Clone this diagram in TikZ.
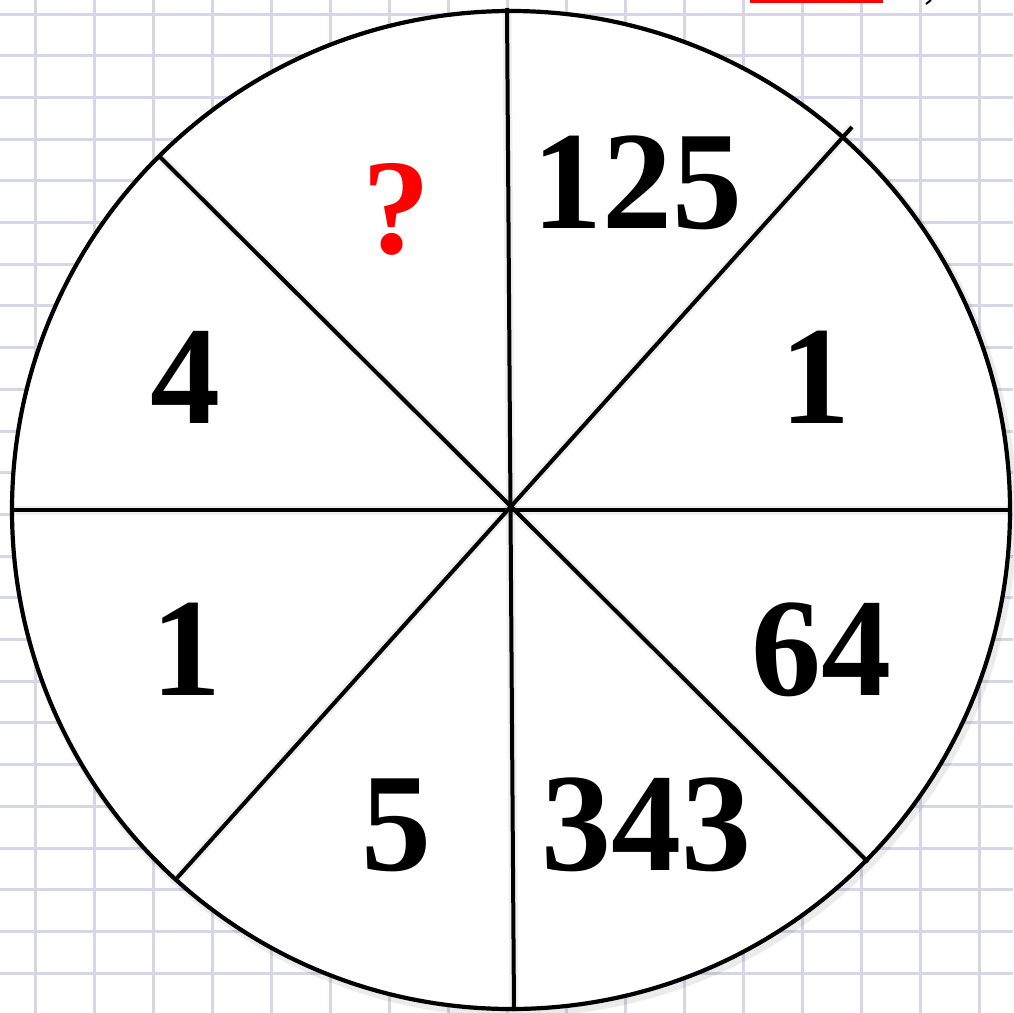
\documentclass[tikz,border=0pt]{standalone}
\usepackage{fontspec}
\setmainfont{Liberation Serif}
\definecolor{gridc}{RGB}{214,214,232}
\definecolor{qred}{RGB}{255,0,0}
\tikzset{
  num/.style={font=\fontsize{140}{140}\selectfont\bfseries, anchor=base, inner sep=0pt},
  spoke/.style={line width=4pt, black},
  spokeshadow/.style={line width=9pt, black, opacity=0.06},
  gridline/.style={line width=3pt, gridc}
}
\begin{document}
\begin{tikzpicture}[x=1pt,y=-1pt]
\useasboundingbox (0,0) rectangle (1013,1013);
\fill[white] (0,0) rectangle (1013,1013);
% grid
\foreach \i in {0,...,16} {
  \draw[gridline] ({35+59*\i},0) -- ({35+59*\i},1013);
}
\foreach \j in {0,...,24} {
  \draw[gridline] (0,{14+41.7*\j}) -- (1013,{14+41.7*\j});
}
% top-right cut-off marks
\fill[qred] (750,-5) rectangle (883,3);
\draw[line width=2pt] (926,4) -- (931,0);
% disk
\coordinate (O) at (511,510);
\fill[black, opacity=0.08] (514,514) circle (503);
\fill[white] (O) circle (499);
% spoke endpoints
\coordinate (T) at (507,8);
\coordinate (B) at (514,1011);
\coordinate (L) at (12,510);
\coordinate (R) at (1010,510);
\coordinate (UL) at (160,157);
\coordinate (LR) at (868,862);
\coordinate (LL) at (177,878);
\coordinate (UR) at (852,127);
% shadows of spokes
\begin{scope}[shift={(2,6)}]
\draw[spokeshadow] (T) -- (B);
\draw[spokeshadow] (L) -- (R);
\draw[spokeshadow] (UL) -- (LR);
\draw[spokeshadow] (LL) -- (UR);
\end{scope}
% spokes
\draw[spoke] (T) -- (B);
\draw[spoke] (L) -- (R);
\draw[spoke] (UL) -- (LR);
\draw[spoke] (LL) -- (UR);
% rim
\draw[line width=4.2pt] (O) circle (499);
% numbers
\node[num] (n125) at (637,228) {125};
\node[num, text=qred, font=\fontsize{136}{136}\selectfont\bfseries] (nq) at (396,253) {?};
\node[num] (n4) at (185,423) {4};
\node[num] (n1r) at (815,423) {1};
\node[num] (n64) at (821,695) {64};
\node[num] (n1l) at (186,695) {1};
\node[num] (n5) at (396,870) {5};
\node[num] (n343) at (646,870) {343};
\end{tikzpicture}
\end{document}
